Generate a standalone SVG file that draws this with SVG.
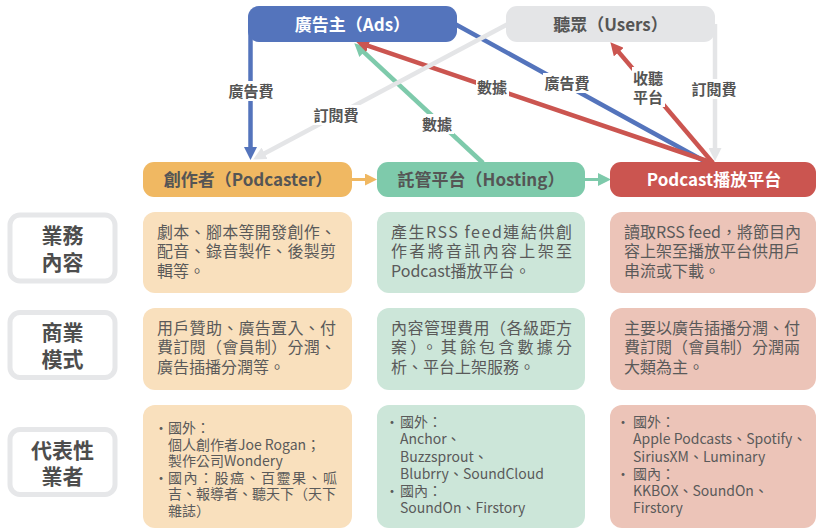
<svg xmlns="http://www.w3.org/2000/svg" width="817" height="530" viewBox="0 0 817 530">
<style>
text{font-family:"Noto Sans CJK TC","Noto Sans",sans-serif;}
.title{font-size:17px;font-weight:bold;text-anchor:middle;}
.w{fill:#ffffff;}
.d{fill:#555555;}
.lbl{font-size:15px;font-weight:bold;fill:#555555;text-anchor:middle;}
.rowlbl{font-size:21px;font-weight:bold;fill:#4d4d4d;text-anchor:middle;}
.body{font-size:16px;fill:#5a5a5a;}
.small{font-size:14px;fill:#5a5a5a;}
.line{fill:none;stroke-width:4.5;}
.lbg{fill:#ffffff;}
.rowbox{fill:#ffffff;stroke:#e6e7e9;stroke-width:5;}
</style>
<defs>
<marker id="mBlue" markerUnits="userSpaceOnUse" markerWidth="13" markerHeight="13" refX="4" refY="6.5" orient="auto"><path d="M0,0 L13,6.5 L0,13 z" fill="#5474bc"/></marker>
<marker id="mGray" markerUnits="userSpaceOnUse" markerWidth="13" markerHeight="13" refX="4" refY="6.5" orient="auto"><path d="M0,0 L13,6.5 L0,13 z" fill="#e4e5e7"/></marker>
<marker id="mGreen" markerUnits="userSpaceOnUse" markerWidth="13" markerHeight="13" refX="4" refY="6.5" orient="auto"><path d="M0,0 L13,6.5 L0,13 z" fill="#7ecaab"/></marker>
<marker id="mRed" markerUnits="userSpaceOnUse" markerWidth="13" markerHeight="13" refX="4" refY="6.5" orient="auto"><path d="M0,0 L13,6.5 L0,13 z" fill="#cb5550"/></marker>
<marker id="mOrange" markerUnits="userSpaceOnUse" markerWidth="12" markerHeight="12" refX="4" refY="6" orient="auto"><path d="M0,0 L12,6 L0,12 z" fill="#f0b862"/></marker>
</defs>
<rect width="817" height="530" fill="#ffffff"/>

<g id="connectors">
  <line class="line" x1="455" y1="24" x2="706" y2="162" stroke="#5474bc"/>
  <line class="line" x1="250.5" y1="30" x2="250.5" y2="151" stroke="#5474bc" marker-end="url(#mBlue)"/>
  <line class="line" x1="483" y1="163" x2="360.9" y2="49.4" stroke="#7ecaab" marker-end="url(#mGreen)"/>
  <line class="line" x1="713" y1="163" x2="364.6" y2="44.6" stroke="#cb5550" marker-end="url(#mRed)"/>
  <line class="line" x1="508" y1="24" x2="261.1" y2="155.2" stroke="#e4e5e7" marker-end="url(#mGray)"/>
  <line class="line" x1="713" y1="163" x2="616.2" y2="49.1" stroke="#cb5550" marker-end="url(#mRed)"/>
  <line class="line" x1="715" y1="24" x2="715" y2="152" stroke="#e4e5e7" marker-end="url(#mGray)"/>
  <line x1="352" y1="179.5" x2="369" y2="179.5" stroke="#f0b862" stroke-width="3" marker-end="url(#mOrange)"/>
  <line x1="585" y1="179.5" x2="602" y2="179.5" stroke="#7ecaab" stroke-width="3" marker-end="url(#mGreen)"/>

  <rect class="lbg" x="227" y="81" width="48" height="20"/>
  <text class="lbl" x="251" y="96.5">廣告費</text>
  <rect class="lbg" x="312" y="105" width="48" height="20"/>
  <text class="lbl" x="336" y="120.5">訂閱費</text>
  <rect class="lbg" x="421" y="114" width="33" height="20"/>
  <text class="lbl" x="437" y="129.5">數據</text>
  <rect class="lbg" x="476" y="77" width="33" height="20"/>
  <text class="lbl" x="492" y="92.5">數據</text>
  <rect class="lbg" x="543" y="73" width="48" height="20"/>
  <text class="lbl" x="567" y="88.5">廣告費</text>
  <rect class="lbg" x="632" y="67" width="33" height="40"/>
  <text class="lbl" x="648" y="83.5">收聽</text>
  <text class="lbl" x="648" y="102.5">平台</text>
  <rect class="lbg" x="690" y="79" width="48" height="20"/>
  <text class="lbl" x="714" y="94.5">訂閱費</text>
</g>

<g id="node-ads">
  <rect x="248" y="6" width="209" height="36" rx="11" fill="#5474bc"/>
  <text class="title w" x="352.5" y="30.5">廣告主（Ads）</text>
</g>
<g id="node-users">
  <rect x="506" y="6" width="209" height="36" rx="11" fill="#e4e5e7"/>
  <text class="title d" x="610.5" y="30.5">聽眾（Users）</text>
</g>
<g id="node-podcaster">
  <rect x="143" y="162" width="209" height="35" rx="11" fill="#f0b862"/>
  <text class="title d" x="248" y="185.5">創作者（Podcaster）</text>
</g>
<g id="node-hosting">
  <rect x="377" y="162" width="208" height="35" rx="11" fill="#7ecaab"/>
  <text class="title d" x="481" y="185.5">託管平台（Hosting）</text>
</g>
<g id="node-platform">
  <rect x="610" y="162" width="206" height="35" rx="11" fill="#cb5550"/>
  <text class="title w" x="714" y="185.5">Podcast播放平台</text>
</g>

<g id="row-business">
  <rect class="rowbox" x="10" y="215" width="105" height="66" rx="10"/>
  <text class="rowlbl" x="62.5" y="243">業務</text>
  <text class="rowlbl" x="62.5" y="270">內容</text>
</g>
<g id="row-model">
  <rect class="rowbox" x="10" y="312.5" width="105" height="65" rx="10"/>
  <text class="rowlbl" x="62.5" y="340">商業</text>
  <text class="rowlbl" x="62.5" y="367">模式</text>
</g>
<g id="row-players">
  <rect class="rowbox" x="10" y="429.5" width="105" height="65" rx="10"/>
  <text class="rowlbl" x="62.5" y="458">代表性</text>
  <text class="rowlbl" x="62.5" y="484">業者</text>
</g>

<g id="podcaster-business">
  <rect x="143" y="212" width="209" height="81" rx="12" fill="#f9e0bd"/>
  <text class="body" x="157" y="238" textLength="179" lengthAdjust="spacing">劇本、腳本等開發創作、</text>
  <text class="body" x="157" y="257" textLength="179" lengthAdjust="spacing">配音、錄音製作、後製剪</text>
  <text class="body" x="157" y="277">輯等。</text>
</g>
<g id="hosting-business">
  <rect x="377" y="212" width="208" height="81" rx="12" fill="#cce6d9"/>
  <text class="body" x="391" y="238" textLength="181" lengthAdjust="spacing">產生RSS feed連結供創</text>
  <text class="body" x="391" y="257" textLength="181" lengthAdjust="spacing">作者將音訊內容上架至</text>
  <text class="body" x="391" y="277">Podcast播放平台。</text>
</g>
<g id="platform-business">
  <rect x="610" y="212" width="206" height="81" rx="12" fill="#ecc4b8"/>
  <text class="body" x="624" y="238">讀取RSS feed，將節目內</text>
  <text class="body" x="624" y="257">容上架至播放平台供用戶</text>
  <text class="body" x="624" y="277">串流或下載。</text>
</g>

<g id="podcaster-model">
  <rect x="143" y="308" width="209" height="82" rx="12" fill="#f9e0bd"/>
  <text class="body" x="157" y="334" textLength="179" lengthAdjust="spacing">用戶贊助、廣告置入、付</text>
  <text class="body" x="157" y="353" textLength="179" lengthAdjust="spacing">費訂閱（會員制）分潤、</text>
  <text class="body" x="157" y="373">廣告插播分潤等。</text>
</g>
<g id="hosting-model">
  <rect x="377" y="308" width="208" height="82" rx="12" fill="#cce6d9"/>
  <text class="body" x="391" y="334" textLength="181" lengthAdjust="spacing">內容管理費用（各級距方</text>
  <text class="body" x="391" y="353" textLength="181" lengthAdjust="spacing">案）。其餘包含數據分</text>
  <text class="body" x="391" y="373">析、平台上架服務。</text>
</g>
<g id="platform-model">
  <rect x="610" y="308" width="206" height="82" rx="12" fill="#ecc4b8"/>
  <text class="body" x="624" y="334">主要以廣告插播分潤、付</text>
  <text class="body" x="624" y="353">費訂閱（會員制）分潤兩</text>
  <text class="body" x="624" y="373">大類為主。</text>
</g>

<g id="podcaster-players">
  <rect x="143" y="405" width="209" height="123" rx="12" fill="#f9e0bd"/>
  <text class="small" x="154" y="433">・</text>
  <text class="small" x="168" y="433">國外：</text>
  <text class="small" x="168" y="449.5">個人創作者Joe Rogan；</text>
  <text class="small" x="168" y="466">製作公司Wondery</text>
  <text class="small" x="154" y="482.5">・</text>
  <text class="small" x="168" y="482.5" textLength="169" lengthAdjust="spacing">國內：股癌、百靈果、呱</text>
  <text class="small" x="168" y="499">吉、報導者、聽天下（天下</text>
  <text class="small" x="168" y="515.5">雜誌）</text>
</g>
<g id="hosting-players">
  <rect x="377" y="405" width="208" height="123" rx="12" fill="#cce6d9"/>
  <text class="small" x="385" y="427">・</text>
  <text class="small" x="400" y="427">國外：</text>
  <text class="small" x="400" y="444">Anchor、</text>
  <text class="small" x="400" y="461.5">Buzzsprout、</text>
  <text class="small" x="400" y="479">Blubrry、SoundCloud</text>
  <text class="small" x="385" y="496">・</text>
  <text class="small" x="400" y="496">國內：</text>
  <text class="small" x="400" y="513">SoundOn、Firstory</text>
</g>
<g id="platform-players">
  <rect x="610" y="405" width="206" height="123" rx="12" fill="#ecc4b8"/>
  <text class="small" x="616" y="427">・</text>
  <text class="small" x="633" y="427">國外：</text>
  <text class="small" x="633" y="444">Apple Podcasts、Spotify、</text>
  <text class="small" x="633" y="461.5">SiriusXM、Luminary</text>
  <text class="small" x="616" y="479">・</text>
  <text class="small" x="633" y="479">國內：</text>
  <text class="small" x="633" y="496">KKBOX、SoundOn、</text>
  <text class="small" x="633" y="513">Firstory</text>
</g>
</svg>
